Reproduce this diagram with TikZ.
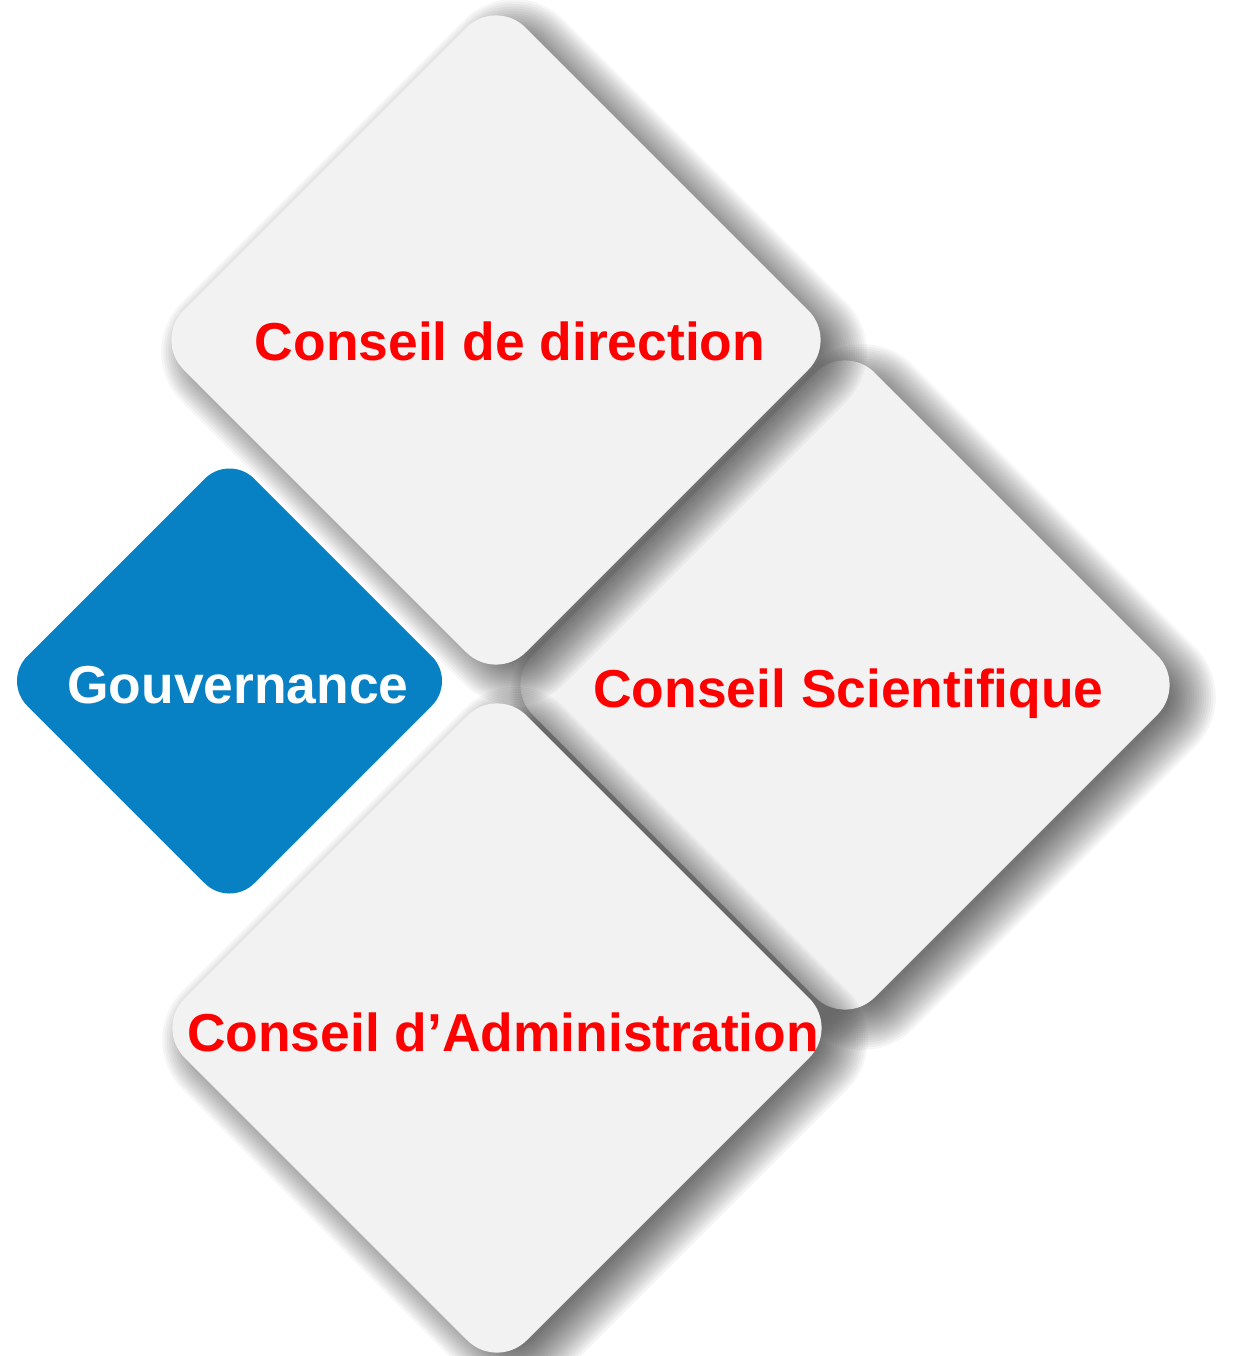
\documentclass[tikz,border=0pt]{standalone}
\usepackage{fontspec}
\setmainfont{Liberation Sans}
\definecolor{cardgray}{HTML}{F2F2F2}
\definecolor{govblue}{HTML}{0880C4}
\definecolor{txtred}{HTML}{FF0000}
% blurred drop shadow of a rounded diamond: #1 cx, #2 cy, #3 half-diagonal (px)
\newcommand{\cardshadow}[3]{%
  \foreach \k in {0,...,19}{%
    \pgfmathsetmacro{\hs}{#3+8+32-64*\k/19}%
    \pgfmathsetmacro{\rs}{max(2,(42+(\hs-#3)/1.414)/2)}%
    \fill[black, fill opacity=0.034, rounded corners=\rs pt]
      ({#1+18},{#2+12-\hs}) -- ({#1+18+\hs},{#2+12}) -- ({#1+18},{#2+12+\hs}) -- ({#1+18-\hs},{#2+12}) -- cycle;
  }%
}
\newcommand{\carddiamond}[4]{% #1 style, #2 cx, #3 cy, #4 h
  \fill[#1] (#2,{#3-#4}) -- ({#2+#4},#3) -- (#2,{#3+#4}) -- ({#2-#4},#3) -- cycle;
}
\begin{document}
\begin{tikzpicture}[x=0.5pt, y=-0.5pt,
  lbl/.style={font=\fontsize{26.7}{30}\selectfont\bfseries, text=txtred, inner sep=0pt, anchor=base},
  card/.style={fill=cardgray, rounded corners=21pt},
  govcard/.style={fill=govblue, rounded corners=17.5pt}]
\fill[white] (0,0) rectangle (1240,1356);
\useasboundingbox (0,0) rectangle (1240,1356);

% right card
\cardshadow{845}{685}{342}
\carddiamond{card}{845}{685}{342}
% top card
\cardshadow{496}{340}{342}
\carddiamond{card}{496}{340}{342}
% bottom card
\cardshadow{497}{1028}{342}
\carddiamond{card}{497}{1028}{342}
% blue card
\carddiamond{govcard}{229.5}{681}{227}

\node[lbl] (direction) at (510,360) {Conseil de direction};
\node[lbl, text=white] (gouv) at (238,703) {Gouvernance};
\node[lbl] (scient) at (848.5,707) {Conseil Scientifique};
\node[lbl] (admin) at (503,1051) {Conseil d’Administration};
\end{tikzpicture}
\end{document}
